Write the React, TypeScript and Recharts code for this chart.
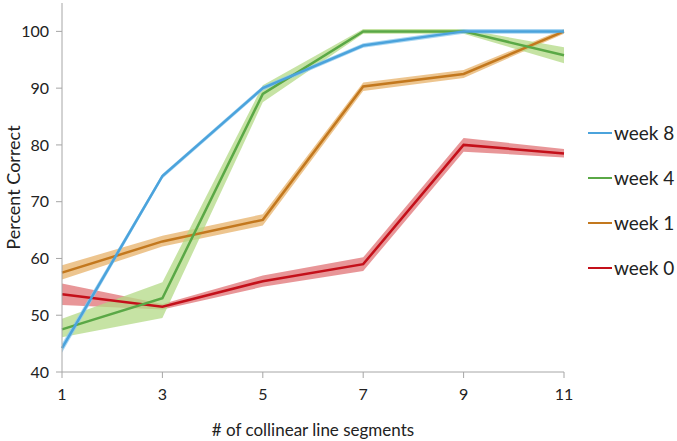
import { ComposedChart, Line, Area, XAxis, YAxis } from 'recharts'

const segments = [1, 3, 5, 7, 9, 11]
const xTicks = [1, 3, 5, 7, 9, 11]
const yTicks = [40, 50, 60, 70, 80, 90, 100]

const week8 = [44.2, 74.5, 90, 97.5, 100, 100]
const week8Lo = [43.4, 74.1, 89.6, 97.1, 99.6, 99.6]
const week8Hi = [45, 74.9, 90.4, 97.9, 100.4, 100.4]

const week4 = [47.5, 53, 89, 100, 100, 95.8]
const week4Lo = [46.1, 49.5, 87.5, 99.6, 99.6, 94.4]
const week4Hi = [49.4, 55.8, 90.5, 100.4, 100.4, 97.2]

const week1 = [57.5, 63, 66.8, 90.3, 92.5, 100]
const week1Lo = [56.3, 62.1, 65.8, 89.5, 91.8, 99.6]
const week1Hi = [58.8, 64, 67.8, 91, 93.2, 100.4]

const week0 = [53.7, 51.5, 56, 59, 80, 78.5]
const week0Lo = [51.8, 51, 55, 57.8, 78.8, 77.8]
const week0Hi = [55.6, 52, 57, 60.2, 81.2, 79.3]

const series = [
    { name: 'week 8', key: 'w8', line: '#4ba3dc', band: '#8cc8ee' },
    { name: 'week 4', key: 'w4', line: '#5aa846', band: '#b3da86' },
    { name: 'week 1', key: 'w1', line: '#c3781e', band: '#e7b16a' },
    { name: 'week 0', key: 'w0', line: '#c4101a', band: '#e07376' },
]

const data = segments.map((x, i) => ({
    x,
    w8: week8[i], w8r: [week8Lo[i], week8Hi[i]],
    w4: week4[i], w4r: [week4Lo[i], week4Hi[i]],
    w1: week1[i], w1r: [week1Lo[i], week1Hi[i]],
    w0: week0[i], w0r: [week0Lo[i], week0Hi[i]],
}))

const font = 'Lato, "Open Sans", sans-serif'

function LegendBox() {
    return (
        <div style={{ position: 'absolute', left: 588, top: 110, fontFamily: font, fontSize: 19, color: '#222' }}>
            {series.map(s => (
                <div key={s.key} style={{ display: 'flex', alignItems: 'center', height: 45 }}>
                    <span style={{ width: 24, height: 2, background: s.line, marginRight: 2 }} />
                    <span>{s.name}</span>
                </div>
            ))}
        </div>
    )
}

export default function App() {
    const order = ['w0', 'w1', 'w4', 'w8']
    return (
        <div style={{ position: 'absolute', left: 0, top: 0, width: 677, height: 441, background: '#fff' }}>
            <ComposedChart width={677} height={441} data={data} margin={{ top: 3, right: 113, bottom: 9, left: 0 }}>
                <XAxis
                    dataKey="x"
                    type="number"
                    domain={[1, 11]}
                    ticks={xTicks}
                    stroke="#a6a6a6"
                    tickSize={6}
                    height={60}
                    tick={{ fill: '#222', fontSize: 16, fontFamily: font }}
                    tickMargin={11}
                    label={{ value: '# of collinear line segments', position: 'insideBottom', offset: -4, fill: '#222', fontSize: 17, fontFamily: font }}
                />
                <YAxis
                    type="number"
                    domain={[40, 105]}
                    ticks={yTicks}
                    stroke="#a6a6a6"
                    tickSize={6}
                    width={62}
                    tick={{ fill: '#222', fontSize: 16, fontFamily: font }}
                    tickMargin={7}
                    label={{ value: 'Percent Correct', angle: -90, position: 'insideLeft', offset: 14, fill: '#222', fontSize: 18, fontFamily: font, style: { textAnchor: 'middle' } }}
                />
                {order.map(k => {
                    const s = series.find(v => v.key === k)!
                    return (
                        <Area
                            key={k + 'r'}
                            dataKey={k + 'r'}
                            type="linear"
                            stroke="none"
                            fill={s.band}
                            fillOpacity={0.75}
                            isAnimationActive={false}
                            legendType="none"
                        />
                    )
                })}
                {order.map(k => {
                    const s = series.find(v => v.key === k)!
                    return (
                        <Line
                            key={k}
                            dataKey={k}
                            name={s.name}
                            type="linear"
                            stroke={s.line}
                            strokeWidth={2.5}
                            dot={false}
                            isAnimationActive={false}
                        />
                    )
                })}
            </ComposedChart>
            <LegendBox />
        </div>
    )
}
